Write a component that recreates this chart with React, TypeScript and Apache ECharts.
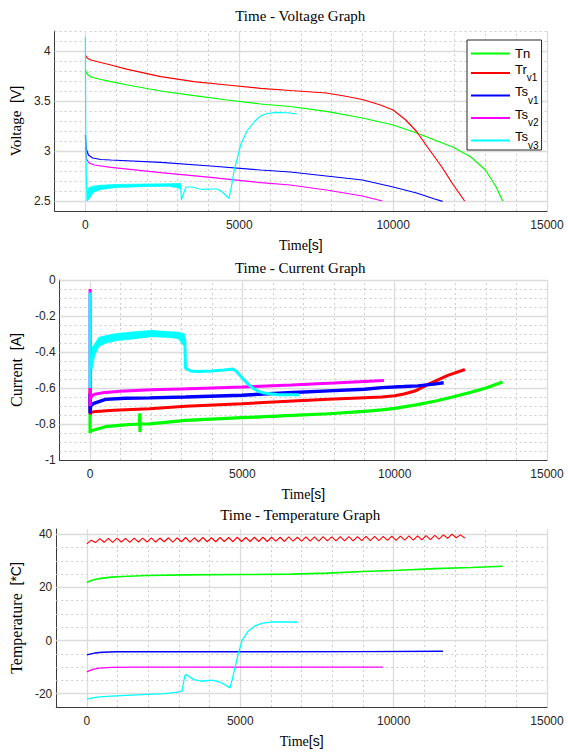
import React, { useEffect, useRef } from 'react';
import * as echarts from 'echarts';

// ---------- data ----------
const SERIES_NAMES = ['Tn', 'Tr_v1', 'Ts_v1', 'Ts_v2', 'Ts_v3'];
const COLORS = ['#00ff00', '#ff0000', '#0000ff', '#ff00ff', '#00ffff'];

const X_TICKS = [0, 5000, 10000, 15000];
const V_TICKS = [2.5, 3, 3.5, 4];
const I_TICKS = [-1, -0.8, -0.6, -0.4, -0.2, 0];
const T_TICKS = [-20, 0, 20, 40];

// Voltage [t(s), V]
const vTn = [[0, 3.81], [60, 3.77], [180, 3.74], [500, 3.715], [830, 3.693], [1370, 3.66], [2450, 3.6], [3530, 3.553], [4610, 3.51], [5690, 3.47], [6655, 3.445], [7829, 3.396], [9002, 3.33], [10000, 3.26], [10765, 3.18], [11350, 3.11], [11940, 3.04], [12527, 2.94], [13000, 2.81], [13350, 2.64], [13560, 2.5]];
const vTr1 = [[0, 3.96], [60, 3.93], [180, 3.91], [500, 3.885], [830, 3.86], [1370, 3.817], [2450, 3.743], [3530, 3.693], [4610, 3.66], [5690, 3.627], [6655, 3.605], [7829, 3.58], [8415, 3.55], [9002, 3.515], [9589, 3.46], [10000, 3.41], [10411, 3.31], [10763, 3.195], [11115, 3.04], [11584, 2.84], [11936, 2.67], [12324, 2.5]];
const vTs1 = [[0, 3.16], [30, 3.02], [100, 2.96], [237, 2.93], [500, 2.915], [830, 2.91], [2450, 2.887], [4070, 2.85], [5690, 2.81], [6655, 2.79], [7829, 2.75], [9002, 2.71], [10000, 2.64], [10763, 2.58], [11350, 2.52], [11608, 2.497]];
const vTs2 = [[0, 3.04], [40, 2.92], [120, 2.88], [290, 2.86], [830, 2.837], [2450, 2.783], [4070, 2.737], [5690, 2.683], [6655, 2.66], [7829, 2.61], [9002, 2.55], [9648, 2.5]];
const vTs3 = [[0, 4.14], [10, 3.3], [30, 2.75], [60, 2.5], [100, 2.57], [200, 2.62], [500, 2.64], [1000, 2.652], [2000, 2.66], [2700, 2.662], [3050, 2.655], [3100, 2.64], [3120, 2.51], [3160, 2.55], [3270, 2.64], [3400, 2.64], [3530, 2.635], [3700, 2.62], [3850, 2.617], [4100, 2.62], [4280, 2.62], [4450, 2.59], [4600, 2.545], [4665, 2.527], [4750, 2.65], [4830, 2.8], [4940, 2.93], [5045, 3.06], [5250, 3.2], [5480, 3.29], [5690, 3.35], [5900, 3.375], [6200, 3.386], [6655, 3.38], [6866, 3.37]];
// noisy band of Ts_v3 voltage [t, low, high]
const vTs3Band = [[60, 2.5, 2.6], [120, 2.52, 2.635], [250, 2.585, 2.648], [500, 2.615, 2.658], [1000, 2.635, 2.665], [2000, 2.645, 2.67], [2700, 2.648, 2.672], [2950, 2.635, 2.675], [3100, 2.62, 2.676]];

// Current [t(s), A]
const iTn = [[0, -0.745], [0, -0.85], [30, -0.838], [127, -0.833], [505, -0.815], [1040, -0.806], [1600, -0.8], [1625, -0.8], [1632, -0.74], [1640, -0.845], [1650, -0.8], [1960, -0.799], [3134, -0.78], [4988, -0.765], [6655, -0.752], [7829, -0.743], [9002, -0.73], [9582, -0.722], [10000, -0.713], [10700, -0.694], [11350, -0.672], [11900, -0.65], [12500, -0.624], [13000, -0.6], [13540, -0.567]];
const iTr1 = [[0, -0.6], [0, -0.745], [50, -0.735], [200, -0.73], [786, -0.724], [1960, -0.715], [3134, -0.702], [4988, -0.687], [6655, -0.672], [7829, -0.663], [9002, -0.654], [9582, -0.65], [10000, -0.643], [10300, -0.633], [10662, -0.617], [11115, -0.578], [11744, -0.53], [12305, -0.497]];
const iTs1 = [[0, -0.63], [0, -0.74], [20, -0.7], [127, -0.685], [505, -0.663], [1150, -0.657], [1960, -0.655], [3134, -0.65], [4988, -0.64], [6655, -0.625], [7829, -0.616], [9002, -0.607], [9582, -0.598], [10300, -0.592], [10763, -0.588], [11350, -0.577], [11608, -0.571]];
const iTs2 = [[0, -0.7], [0, -0.05], [15, -0.66], [60, -0.645], [150, -0.635], [400, -0.627], [1000, -0.618], [2000, -0.61], [3000, -0.605], [5000, -0.595], [6600, -0.583], [8000, -0.572], [9648, -0.558]];
const iTs3 = [[0, -0.6], [0, -0.07], [5, -0.5], [60, -0.44], [150, -0.39], [290, -0.343], [830, -0.32], [1370, -0.31], [2020, -0.298], [2670, -0.305], [3045, -0.33], [3110, -0.33], [3135, -0.49], [3300, -0.505], [3530, -0.508], [4000, -0.505], [4400, -0.5], [4700, -0.495], [4820, -0.51], [5012, -0.547], [5200, -0.58], [5364, -0.603], [5550, -0.62], [5716, -0.628], [6185, -0.637], [6866, -0.637]];
const iTs3Band = [[5, -0.56, -0.4], [60, -0.5, -0.375], [150, -0.42, -0.355], [290, -0.37, -0.318], [500, -0.352, -0.31], [830, -0.338, -0.298], [1370, -0.328, -0.289], [2020, -0.315, -0.28], [2670, -0.32, -0.288], [2900, -0.326, -0.29], [3045, -0.36, -0.296], [3110, -0.36, -0.3]];

// Temperature [t(s), degC]
const tTn = [[0, 21.9], [100, 22.4], [250, 23.0], [505, 23.5], [800, 23.9], [1150, 24.1], [1960, 24.5], [3134, 24.75], [4988, 24.85], [6655, 25.0], [7829, 25.4], [9002, 26.0], [10176, 26.5], [11350, 27.1], [12523, 27.5], [13560, 28.0]];
const TR_TEMP_STEP = 140;
const tTr1Values = [36.4, 37.8, 36.9, 38.4, 37.0, 38.5, 37.0, 38.6, 37.1, 38.5, 37.0, 38.6, 37.1, 38.6, 37.1, 38.7, 37.1, 38.6, 37.2, 38.7, 37.1, 38.7, 37.2, 38.8, 37.1, 38.7, 37.2, 38.8, 37.2, 38.7, 37.2, 38.8, 37.3, 38.8, 37.2, 38.9, 37.3, 38.8, 37.3, 38.9, 37.3, 38.9, 37.3, 38.9, 37.4, 38.9, 37.3, 39.0, 37.4, 38.9, 37.4, 39.0, 37.4, 39.0, 37.4, 39.1, 37.5, 39.0, 37.5, 39.1, 37.5, 39.1, 37.5, 39.1, 37.6, 39.2, 37.6, 39.2, 37.6, 39.2, 37.7, 39.3, 37.7, 39.3, 37.8, 39.4, 37.8, 39.4, 37.9, 39.5, 38.0, 39.6, 38.2, 39.8, 38.5, 40.1, 38.7, 39.8, 38.6];
const tTs1 = [[0, -5.4], [100, -5.1], [250, -4.7], [505, -4.4], [1000, -4.2], [3000, -4.2], [6000, -4.2], [9000, -4.15], [11608, -4.0]];
const tTs2 = [[0, -11.8], [80, -11.3], [200, -10.8], [400, -10.4], [800, -10.1], [1500, -10.0], [5000, -10.0], [9648, -10.0]];
const tTs3 = [[0, -22.0], [317, -21.25], [786, -20.9], [1960, -20.25], [2547, -20.0], [3016, -19.3], [3100, -18.9], [3193, -13.2], [3230, -12.8], [3300, -13.3], [3486, -14.7], [3720, -15.3], [4073, -14.9], [4307, -15.5], [4500, -16.6], [4636, -17.6], [4660, -17.9], [4740, -14.5], [4836, -9.7], [4953, -4.1], [5070, 0.3], [5246, 3.4], [5481, 5.55], [5716, 6.56], [6068, 7.0], [6655, 7.0], [6866, 6.9]];

// ---------- styling ----------
const SANS = '"Liberation Sans", Arial, Helvetica, sans-serif';
const SERIF = '"Liberation Serif", "Times New Roman", serif';
const GRID_LEFT = 53.5;
const GRID_RIGHT = 21;
const X_RANGE = { min: -1000, max: 15000, minor: 1000 };
const PANELS = [
  { top: 31, height: 180, min: 2.4, max: 4.2, minor: 0.1, ticks: V_TICKS },
  { top: 280, height: 180, min: -1, max: 0, minor: 0.05, ticks: I_TICKS },
  { top: 529, height: 178, min: -25, max: 42, minor: 5, ticks: T_TICKS },
];
const TITLES = [
  { text: 'Time - Voltage Graph', y: 16 },
  { text: 'Time - Current Graph', y: 268 },
  { text: 'Time - Temperature Graph', y: 514.5 },
];

const near = (a: number, b: number) => Math.abs(a - b) < 1e-6;
const fmtFor = (ticks: number[]) => (v: number) => {
  const hit = ticks.find((t) => near(t, v));
  return hit === undefined ? '' : String(hit);
};
// grid-line positions between an axis's min and max (excluding the axis line itself)
const gridPositions = (min: number, max: number, step: number) => {
  const out: number[] = [];
  const n = Math.floor((max - min) / step + 1e-6);
  for (let k = 1; k <= n; k++) out.push(Math.round((min + k * step) * 1e6) / 1e6);
  return out;
};

const nameRich = (serifSize: number) => ({
  s: { fontFamily: SERIF, fontSize: serifSize, color: '#000' },
  a: { fontFamily: SANS, fontSize: 14, color: '#000' },
});

const xAxisFor = (gi: number) => ({
  type: 'value',
  gridIndex: gi,
  min: X_RANGE.min,
  max: X_RANGE.max,
  interval: X_RANGE.minor,
  axisLine: { show: true, onZero: false, lineStyle: { color: '#3a3a3a', width: 1 } },
  axisTick: { show: true, inside: true, length: 4, customValues: X_TICKS, lineStyle: { color: '#3a3a3a' } },
  axisLabel: { show: true, customValues: X_TICKS, margin: 8, fontSize: 12, color: '#262626', fontFamily: SANS, formatter: fmtFor(X_TICKS) },
  splitLine: { show: false },
  name: '{s|Time}{a|[s]}',
  nameLocation: 'middle',
  nameGap: 27,
  nameTextStyle: { rich: nameRich(14) },
});

const yAxisFor = (gi: number, name: string, nameGap: number, serifSize: number) => {
  const p = PANELS[gi];
  return {
    type: 'value',
    gridIndex: gi,
    min: p.min,
    max: p.max,
    interval: p.minor,
    axisLine: { show: true, onZero: false, lineStyle: { color: '#3a3a3a', width: 1 } },
    axisTick: { show: true, inside: true, length: 4, customValues: p.ticks, lineStyle: { color: '#3a3a3a' } },
    axisLabel: { show: true, customValues: p.ticks, margin: 4, fontSize: 12, color: '#262626', fontFamily: SANS, formatter: fmtFor(p.ticks) },
    splitLine: { show: false },
    name,
    nameLocation: 'middle',
    nameGap,
    nameTextStyle: { rich: nameRich(serifSize) },
  };
};

const MINOR_STYLE = { color: '#cdcdcd', width: 1, type: [2, 3] };
const MAJOR_STYLE = { color: '#dcdcdc', width: 1.3, type: 'solid' };

const gridMarkLines = (gi: number) => {
  const p = PANELS[gi];
  const xs = gridPositions(X_RANGE.min, X_RANGE.max, X_RANGE.minor);
  const ys = gridPositions(p.min, p.max, p.minor);
  const xMinor = xs.filter((x) => !X_TICKS.some((t) => near(t, x)));
  const yMinor = ys.filter((y) => !p.ticks.some((t) => near(t, y)));
  const yMajor = p.ticks.filter((t) => t > p.min + 1e-6);
  return {
    silent: true,
    symbol: ['none', 'none'],
    z: 1,
    animation: false,
    label: { show: false },
    emphasis: { disabled: true },
    lineStyle: MAJOR_STYLE,
    data: [
      ...xMinor.map((x) => ({ xAxis: x, lineStyle: MINOR_STYLE })),
      ...yMinor.map((y) => ({ yAxis: y, lineStyle: MINOR_STYLE })),
      ...X_TICKS.map((x) => ({ xAxis: x, lineStyle: MAJOR_STYLE })),
      ...yMajor.map((y) => ({ yAxis: y, lineStyle: MAJOR_STYLE })),
    ],
  };
};

const lineSeries = (idx: number, data: any[], gi: number, width: number, extra: any = {}) => ({
  type: 'line',
  name: SERIES_NAMES[idx],
  data,
  xAxisIndex: gi,
  yAxisIndex: gi,
  showSymbol: false,
  symbol: 'none',
  color: COLORS[idx],
  lineStyle: { color: COLORS[idx], width },
  silent: true,
  animation: false,
  ...extra,
});

const bandSeries = (name: string, data: any[], gi: number, color: string) => ({
  type: 'custom',
  name,
  data,
  xAxisIndex: gi,
  yAxisIndex: gi,
  encode: { x: 0, y: [1, 2] },
  silent: true,
  animation: false,
  z: 3,
  renderItem: (params: any, api: any) => {
    if (params.dataIndexInside !== 0) return null;
    const n = params.dataInsideLength;
    const upper: number[][] = [];
    const lower: number[][] = [];
    for (let i = 0; i < n; i++) {
      const t = api.value(0, i);
      upper.push(api.coord([t, api.value(2, i)]));
      lower.push(api.coord([t, api.value(1, i)]));
    }
    return {
      type: 'polygon',
      shape: { points: upper.concat(lower.reverse()) },
      style: { fill: color, stroke: color, lineWidth: 0.8 },
    };
  },
});

export default function App() {
  const ref = useRef<HTMLDivElement>(null);
  useEffect(() => {
    if (!ref.current) return;
    const chart = echarts.init(ref.current, undefined, { renderer: 'svg' });
    const tTr1 = tTr1Values.map((v, i) => [i * TR_TEMP_STEP, v]);

    const option: any = {
      animation: false,
      backgroundColor: '#ffffff',
      title: TITLES.map((t) => ({
        text: t.text,
        left: (GRID_LEFT + (568 - GRID_RIGHT)) / 2,
        top: t.y,
        textAlign: 'center',
        textVerticalAlign: 'middle',
        padding: 0,
        textStyle: { fontFamily: SERIF, fontSize: 15, fontWeight: 'normal', color: '#000' },
      })),
      legend: {
        data: SERIES_NAMES,
        orient: 'vertical',
        left: 467,
        top: 40,
        icon: 'rect',
        itemWidth: 39,
        itemHeight: 2,
        itemGap: 2.5,
        padding: [7, 3, 0, 4],
        borderColor: '#262626',
        borderWidth: 1,
        borderRadius: 0,
        backgroundColor: '#ffffff',
        selectedMode: false,
        formatter: (name: string) => {
          const [b, s] = name.split('_');
          return s ? `{m|${b}}{s|${s}}` : `{n|${b}}`;
        },
        textStyle: {
          color: '#000',
          fontFamily: SANS,
          fontSize: 13,
          rich: {
            n: { fontFamily: SANS, fontSize: 13, color: '#000', verticalAlign: 'middle' },
            m: { fontFamily: SANS, fontSize: 13, color: '#000', padding: [0, 0, 8, 0], verticalAlign: 'middle' },
            s: { fontFamily: SANS, fontSize: 10, color: '#000', padding: [9, 0, 0, 0], verticalAlign: 'middle' },
          },
        },
      },
      grid: PANELS.map((g) => ({ left: GRID_LEFT, right: GRID_RIGHT, top: g.top, height: g.height, containLabel: false, show: false })),
      xAxis: [xAxisFor(0), xAxisFor(1), xAxisFor(2)],
      yAxis: [
        yAxisFor(0, '{s|Voltage}{a|  [V]}', 27.5, 15),
        yAxisFor(1, '{s|Current}{a|  [A]}', 32.5, 16),
        yAxisFor(2, '{s|Temperature}{a|  [*C]}', 29, 16),
      ],
      series: [
        // voltage
        lineSeries(0, vTn, 0, 1.2, { markLine: gridMarkLines(0) }),
        lineSeries(1, vTr1, 0, 1.2),
        lineSeries(2, vTs1, 0, 1.2),
        lineSeries(3, vTs2, 0, 1.2),
        lineSeries(4, vTs3, 0, 1.2),
        bandSeries('Ts_v3 band V', vTs3Band, 0, COLORS[4]),
        // current
        lineSeries(0, iTn, 1, 3.2, { markLine: gridMarkLines(1) }),
        lineSeries(1, iTr1, 1, 3.0),
        lineSeries(2, iTs1, 1, 3.4),
        lineSeries(3, iTs2, 1, 3.0),
        lineSeries(4, iTs3, 1, 3.0),
        bandSeries('Ts_v3 band I', iTs3Band, 1, COLORS[4]),
        // temperature
        lineSeries(0, tTn, 2, 1.6, { markLine: gridMarkLines(2) }),
        lineSeries(1, tTr1, 2, 1.1),
        lineSeries(2, tTs1, 2, 1.4),
        lineSeries(3, tTs2, 2, 1.3),
        lineSeries(4, tTs3, 2, 1.3),
      ],
    };
    chart.setOption(option);
    return () => chart.dispose();
  }, []);

  return (
    <div
      ref={ref}
      style={{ position: 'fixed', left: 0, top: 0, width: 568, height: 756, background: '#fff' }}
    />
  );
}
